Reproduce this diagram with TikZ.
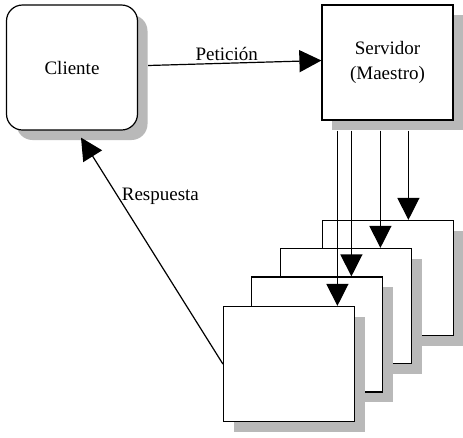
\documentclass[tikz,border=0pt]{standalone}
\usepackage{fontspec}
\setmainfont{Liberation Serif}
\usetikzlibrary{calc,arrows.meta,shadows}

\tikzset{
  caja/.style={draw, line width=1.2pt, fill=white, minimum width=131pt, minimum height=115pt,
    drop shadow={shadow xshift=10pt, shadow yshift=-10pt, fill=gray!55, opacity=1}},
  flecha/.style={line width=1.2pt, -{Triangle[width=22pt,length=22pt]}},
  texto/.style={font=\fontsize{19}{25}\selectfont}
}

\begin{document}
\begin{tikzpicture}[x=1pt,y=-1pt]
    \useasboundingbox (0,0) rectangle (463,437);
    % cliente y servidor
    \node[caja, rounded corners=16pt, minimum height=125pt, texto] (cli) at (72,67.5) {Cliente};
    \node[caja, texto, align=center] (serv) at (387.5,62.5) {Servidor\\(Maestro)};
    % procesos esclavos, de atras hacia adelante
    \foreach \i/\px/\py in {3/388/278,2/346/306,1/317/334.5,0/289/364}
        \node[caja] (trab\i) at (\px,\py) {};
    % peticion
    \draw[flecha] ([xshift=10pt,yshift=2pt]cli.east) -- node[above, texto, inner sep=2pt, xshift=-8pt]{Petición} ([yshift=2pt]serv.west);
    % reparto del trabajo
    \foreach \i/\dx in {0/16,1/30,2/59,3/87}
        \draw[flecha] ($(serv.south west)+(\dx,10)$) -- (trab\i.north -| {$(serv.south west)+(\dx,0)$});
    % respuesta
    \coordinate (resp) at ([shift={(9pt,-7pt)}]cli.south);
    \draw[flecha] (trab0.west) -- node[pos=0.74, anchor=west, texto]{Respuesta} (resp);
\end{tikzpicture}
\end{document}
